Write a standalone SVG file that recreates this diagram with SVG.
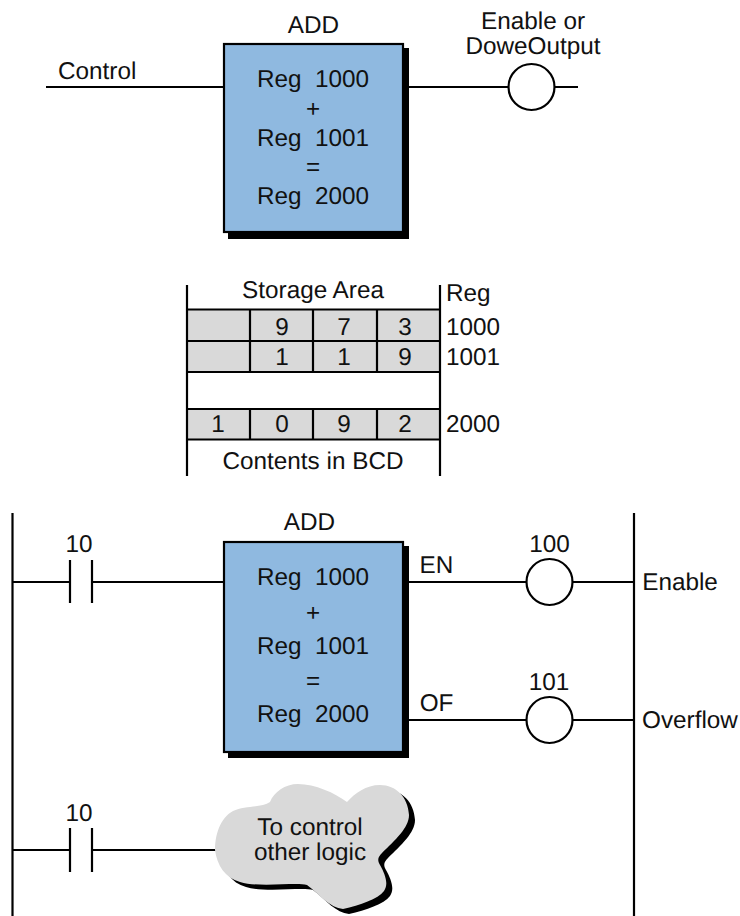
<svg xmlns="http://www.w3.org/2000/svg" width="740" height="916" viewBox="0 0 740 916">
<style>
text{font-family:"Liberation Sans",Arial,sans-serif;font-size:24.300px;fill:#111;text-anchor:middle;text-rendering:geometricPrecision}
.s{fill:none;stroke:#000;stroke-width:2.2}
.box{fill:#8fb9e0;stroke:#000;stroke-width:2.2}
.coil{fill:#fff;stroke:#000;stroke-width:2.2}
.cell{fill:#d9d9d9;stroke:none}
</style>
<defs>
<path id="cloud" d="M215 850C215 835 220 818 233 811C245 805 262 808 270 802C274 792 285 784 298 784C315 784 335 793 347 802C355 793 366 785 380 785C396 785 408 797 409 815C409 828 395 840 382 853C378 857 377 860 380 865C385 874 389 884 384 891C378 899 360 905 343 909C330 908 320 895 307 885C295 882 260 888 240 882C225 878 217 865 215 850Z"/>
</defs>
<g id="connectors">
<path class="s" d="M46 87H224M403 87H510M554 87H578"/>
<path class="s" d="M12.500 513V916M634 513V916"/>
<path class="s" d="M12.500 582H70M70 560V603M92 560V603M92 582H224"/>
<path class="s" d="M403 582H527M572 582H634M403 720H527M572 720H634"/>
<path class="s" d="M12.500 850H70M70 828V872M92 828V872M92 850H216"/>
</g>
<g id="add-top">
<rect x="228" y="48" width="181" height="191" fill="#000"/>
<rect class="box" x="224" y="44" width="179" height="188"/>
<text x="313.500" y="33">ADD</text>
<text x="313" y="87" xml:space="preserve">Reg  1000</text>
<text x="313" y="117">+</text>
<text x="313" y="146" xml:space="preserve">Reg  1001</text>
<text x="313" y="175">=</text>
<text x="313" y="204" xml:space="preserve">Reg  2000</text>
</g>
<text x="58" y="79" style="text-anchor:start" id="label-control">Control</text>
<g id="coil-top">
<circle class="coil" cx="531.500" cy="87" r="23"/>
<text x="533" y="28.500">Enable or</text>
<text x="533" y="54">DoweOutput</text>
</g>
<g id="storage">
<rect class="cell" x="187" y="309" width="253" height="63"/>
<rect class="cell" x="187" y="409" width="253" height="31"/>
<path class="s" d="M187 285V476M440 285V476M187 309.500H440M187 341H440M187 372H440M187 409H440M187 439.500H440"/>
<path class="s" d="M250 309.500V372M313 309.500V372M377 309.500V372M250 409V439.500M313 409V439.500M377 409V439.500"/>
<text x="313" y="298">Storage Area</text>
<text x="282" y="335">9</text><text x="344" y="335">7</text><text x="405" y="335">3</text>
<text x="282" y="365">1</text><text x="344" y="365">1</text><text x="405" y="365">9</text>
<text x="218" y="432">1</text><text x="282" y="432">0</text><text x="344" y="432">9</text><text x="405" y="432">2</text>
<text x="313" y="469">Contents in BCD</text>
<text x="446" y="301" style="text-anchor:start">Reg</text>
<text x="446" y="335" style="text-anchor:start">1000</text>
<text x="446" y="365" style="text-anchor:start">1001</text>
<text x="446" y="432" style="text-anchor:start">2000</text>
</g>
<g id="add-bottom">
<rect x="228" y="546" width="181" height="212" fill="#000"/>
<rect class="box" x="224" y="542" width="179" height="210"/>
<text x="309.500" y="530">ADD</text>
<text x="313" y="585" xml:space="preserve">Reg  1000</text>
<text x="313" y="621">+</text>
<text x="313" y="654" xml:space="preserve">Reg  1001</text>
<text x="313" y="689">=</text>
<text x="313" y="722" xml:space="preserve">Reg  2000</text>
<text x="436.500" y="573">EN</text>
<text x="436.500" y="710.500">OF</text>
</g>
<g id="contact-1"><text x="79" y="552">10</text></g>
<g id="coil-100"><circle class="coil" cx="549.500" cy="582" r="23"/><text x="549.500" y="552">100</text></g>
<g id="coil-101"><circle class="coil" cx="549.500" cy="720" r="23"/><text x="549" y="690">101</text></g>
<text x="680" y="590" id="label-enable">Enable</text>
<text x="690" y="728" id="label-overflow">Overflow</text>
<g id="contact-2"><text x="79" y="821">10</text></g>
<g id="cloud-node">
<use href="#cloud" x="6" y="5" fill="#000"/>
<use href="#cloud" fill="#d9d9d9"/>
<text x="310" y="835">To control</text>
<text x="310" y="860">other logic</text>
</g>
</svg>
